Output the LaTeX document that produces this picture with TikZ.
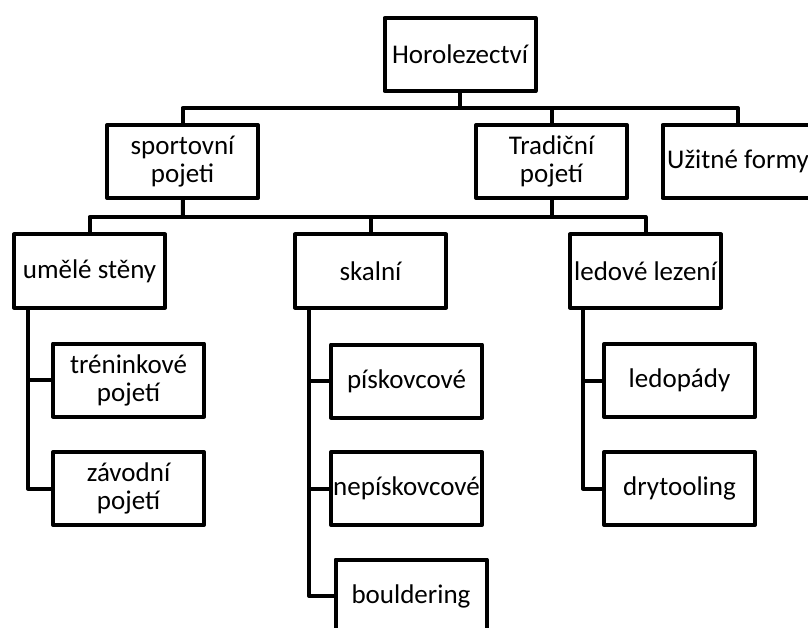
\documentclass[tikz,border=0pt]{standalone}
\usepackage{fontspec}
\setmainfont{Carlito}

\begin{document}
\begin{tikzpicture}[x=1pt,y=-1pt,
	box/.style={draw=black,line width=4pt,line join=round,minimum width=151pt,minimum height=73pt,inner sep=0pt,align=center,font=\fontsize{27}{28}\selectfont},
	link/.style={draw=black,line width=4pt,line join=round}]
	\useasboundingbox (0,0) rectangle (808,628);
	% top level
	\node[box] (horo) at (460,54.5) {Horolezectví};
	\node[box] (sport) at (182.5,161.5) {sportovní\\pojeti};
	\node[box] (trad) at (551.5,161.5) {Tradiční\\pojetí};
	\node[box] (uzit) at (738,161.5) {Užitné formy};
	\coordinate (bus1) at (460,108);
	\draw[link] (horo) -- (bus1);
	\draw[link] (bus1) -| (sport);
	\draw[link] (bus1) -| (trad);
	\draw[link] (bus1) -| (uzit);
	% second level
	\node[box] (umele) at (89.5,271) {umělé stěny};
	\node[box] (skalni) at (370.5,271) {skalní};
	\node[box] (ledove) at (645.5,271) {ledové lezení};
	\coordinate (bus2) at (183,217);
	\draw[link] (sport) -- (bus2);
	\draw[link] (trad) -- (trad |- bus2);
	\draw[link] (bus2) -| (umele);
	\draw[link] (bus2) -| (skalni);
	\draw[link] (bus2) -| (ledove);
	% leaves
	\node[box] (trenink) at (128.5,380) {tréninkové\\pojetí};
	\node[box] (zavod) at (128.5,488.5) {závodní\\pojetí};
	\node[box] (pisk) at (406.5,381) {pískovcové};
	\node[box] (nepisk) at (406.5,488.5) {nepískovcové};
	\node[box] (boulder) at (411,596) {bouldering};
	\node[box] (ledopady) at (679.5,380.5) {ledopády};
	\node[box] (dry) at (679.5,488.5) {drytooling};
	\draw[link] ([xshift=16pt]umele.south west) |- (trenink);
	\draw[link] ([xshift=16pt]umele.south west) |- (zavod);
	\draw[link] ([xshift=16pt]skalni.south west) |- (pisk);
	\draw[link] ([xshift=16pt]skalni.south west) |- (nepisk);
	\draw[link] ([xshift=16pt]skalni.south west) |- (boulder);
	\draw[link] ([xshift=15pt]ledove.south west) |- (ledopady);
	\draw[link] ([xshift=15pt]ledove.south west) |- (dry);
\end{tikzpicture}
\end{document}
